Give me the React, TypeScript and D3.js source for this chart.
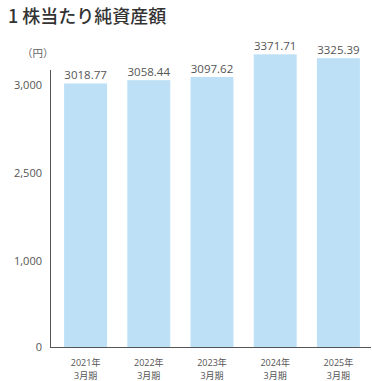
import React from "react";
import * as d3 from "d3";

const years = ["2021年", "2022年", "2023年", "2024年", "2025年"];
const periods = ["3月期", "3月期", "3月期", "3月期", "3月期"];
const values = [3018.77, 3058.44, 3097.62, 3371.71, 3325.39];
const valueLabels = ["3018.77", "3058.44", "3097.62", "3371.71", "3325.39"];
const tickValues = [0, 1000, 2500, 3000];
const title = "1 株当たり純資産額";
const unit = "（円）";

const W = 372;
const H = 381;
const font = "'Open Sans', 'Noto Sans CJK JP', sans-serif";

export default function App() {
  // Broken (piecewise) axis as in the reference
  const y = d3.scaleLinear().domain([0, 1000, 2500, 3000, 3400]).range([347, 261, 173, 85, 52]);
  const x = d3.scaleBand<number>().domain(d3.range(values.length)).range([54, 370]).paddingInner(0.32).paddingOuter(0.16);
  const fmt = d3.format(",");
  return (
    <svg width={W} height={H} style={{ position: "absolute", left: 0, top: 0, display: "block" }}>
      <text x={8} y={23} fontSize={18} fill="#333" fontFamily="'Noto Sans CJK JP', sans-serif" fontWeight={500}>{title}</text>
      <text x={22} y={57} fontSize={10.5} fill="#666" fontFamily="'Noto Sans CJK JP', sans-serif">{unit}</text>
      {values.map((v, i) => (
        <g key={i}>
          <rect x={x(i)} y={y(v)} width={x.bandwidth()} height={y(0) - y(v)} fill="#bde0f7" />
          <text x={x(i)! + x.bandwidth() / 2} y={y(v) - 4} fontSize={11.5} fill="#555" textAnchor="middle" fontFamily={font}>{valueLabels[i]}</text>
          <text x={x(i)! + x.bandwidth() / 2} y={366} fontSize={9} fill="#555" textAnchor="middle" fontFamily={font}>{years[i]}</text>
          <text x={x(i)! + x.bandwidth() / 2} y={379} fontSize={9} fill="#555" textAnchor="middle" fontFamily={font}>{periods[i]}</text>
        </g>
      ))}
      {tickValues.map((t) => (
        <text key={t} x={42} y={y(t) + 4} fontSize={11} fill="#555" textAnchor="end" fontFamily={font}>{fmt(t)}</text>
      ))}
      <line x1={50.5} x2={50.5} y1={70} y2={347.5} stroke="#555" strokeWidth={1} />
      <line x1={50} x2={371} y1={347.5} y2={347.5} stroke="#555" strokeWidth={1} />
    </svg>
  );
}
